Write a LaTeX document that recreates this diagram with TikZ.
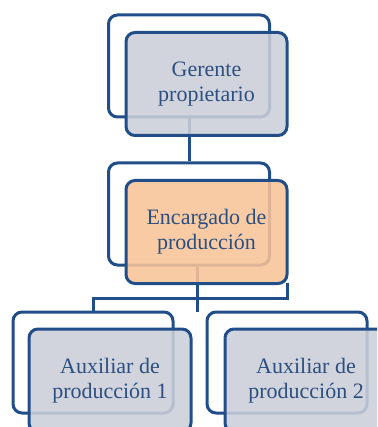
\documentclass[tikz,border=0pt]{standalone}
\usepackage{fontspec}
\setmainfont{Liberation Serif}
\definecolor{bd}{RGB}{33,78,136}
\definecolor{tx}{RGB}{44,79,128}
\definecolor{gf}{RGB}{203,207,217}
\definecolor{of}{RGB}{248,196,152}
\begin{document}
\begin{tikzpicture}[x=1pt,y=-1pt,
  back/.style={draw=bd,line width=3pt,rounded corners=9pt,fill=white,
    minimum width=161pt,minimum height=102pt,inner sep=0pt},
  front/.style={draw=bd,line width=3pt,rounded corners=9pt,fill=gf,
    fill opacity=0.88,text opacity=1,minimum width=161pt,minimum height=103pt,
    inner sep=0pt,align=center,text=tx,font=\fontsize{22}{25}\selectfont},
  conn/.style={draw=bd,line width=3pt}]
\useasboundingbox (0,0) rectangle (377,427);
\clip (0,0) rectangle (377,427);
% back frames
\node[back] (b1) at (189,66) {};
\node[back] (b2) at (189,214) {};
\node[back,minimum width=160pt,minimum height=101pt] (b3) at (93,362.5) {};
\node[back,minimum width=160pt,minimum height=101pt] (b4) at (287,362.5) {};
% connector coordinates
\coordinate (c1) at (197,312);
\coordinate (j1) at (92,298);
\coordinate (j2) at (287,298);
\coordinate (j3) at (287,283);
% connectors
\draw[conn] (b1.south) -- (b2.north);
\draw[conn] ([xshift=8pt]b2.south) -- (c1);
\draw[conn] (b3.north) -- (b3.north |- j1) -- (j2) -- (j3);
% front boxes
\node[front] (f1) at (206.5,84) {Gerente\\propietario};
\node[front,fill=of] (f2) at (206.5,232) {Encargado de\\producción};
\node[front,minimum width=162pt] (f3) at (110,380.5) {Auxiliar de\\producción 1};
\node[front,minimum width=162pt] (f4) at (306,380.5) {Auxiliar de\\producción 2};
\end{tikzpicture}
\end{document}
